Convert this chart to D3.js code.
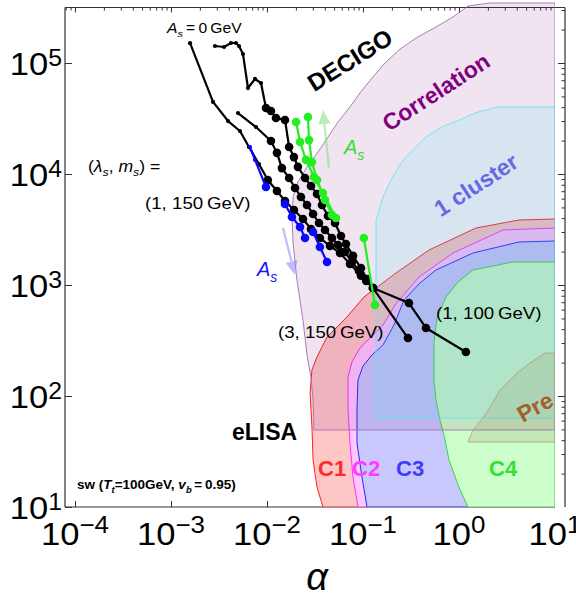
<!DOCTYPE html>
<html><head><meta charset="utf-8">
<script src="https://cdn.jsdelivr.net/npm/d3@7"></script>
<style>body{margin:0;background:#fff}svg{display:block}</style>
</head><body>
<svg id="chart" width="576" height="600"></svg>
<script>
// ---------------- DATA ----------------
const xTickVals = [1e-4, 1e-3, 1e-2, 1e-1, 1, 10];
const xTickExps = ["\u22124", "\u22123", "\u22122", "\u22121", "0", "1"];
const yTickVals = [10, 100, 1000, 1e4, 1e5];
const yTickExps = ["1", "2", "3", "4", "5"];

// black curves (A_s = 0 GeV)
const k1X = [0.00158, 0.00274, 0.00393, 0.00523, 0.00649, 0.00825, 0.0102, 0.0127, 0.0154, 0.0191, 0.0237, 0.0287, 0.0356, 0.0453, 0.0576, 0.0732, 0.0953, 0.127];
const k1Y = [151000, 44600, 30000, 24400, 17500, 12300, 8830, 7030, 5710, 4740, 3930, 3200, 2650, 2250, 1940, 1550, 1210, 940];
const k2X = [0.00287, 0.00357, 0.00422, 0.00475, 0.00511, 0.00562, 0.00634, 0.00750, 0.00866, 0.00976, 0.0110, 0.0124, 0.0154, 0.0170, 0.0191, 0.0210, 0.0249, 0.0287, 0.0332, 0.0374, 0.0432, 0.0511, 0.0590, 0.0665, 0.0787, 0.0953, 0.110, 0.127, 0.301, 0.453, 1.18];
const k2Y = [142300, 139400, 151400, 151400, 142300, 120500, 59500, 71800, 66000, 39300, 37000, 32000, 30700, 17500, 14200, 11600, 9200, 7800, 6610, 5260, 4180, 3620, 2760, 2340, 1830, 1420, 1130, 940, 688, 410, 249];
const k3X = [0.00499, 0.00768, 0.0110, 0.0127, 0.0143, 0.0170, 0.0196, 0.0226, 0.0261, 0.0302, 0.0348, 0.0402, 0.0475, 0.0549, 0.0649, 0.0768, 0.0909, 0.108, 0.127, 0.294];
const k3Y = [35400, 26500, 19800, 15500, 11300, 9200, 7480, 6210, 5260, 4360, 3620, 3130, 2650, 2290, 1980, 1610, 1340, 1090, 940, 333];
// blue curves (A_s increasing, downward)
const b1X = [0.00665, 0.00750, 0.00976];
const b1Y = [17500, 13400, 7640];
const b2X = [0.0154, 0.0182, 0.0221, 0.0249];
const b2Y = [5370, 4100, 3330, 2650];
const b3X = [0.0302, 0.0356, 0.0422];
const b3Y = [3000, 2200, 1610];
// green curves (A_s increasing, upward)
const g1X = [0.0201, 0.0221, 0.0255, 0.0309, 0.0383, 0.0523];
const g1Y = [29400, 19400, 13400, 9400, 6740, 4020];
const g2X = [0.0267, 0.0274, 0.0294, 0.0332, 0.0402, 0.0475];
const g2Y = [32600, 20200, 12800, 8830, 5830, 4270];
const g3X = [0.102, 0.133];
const g3Y = [2650, 660];

// detector / sensitivity regions
const corrX = [10, 2.053, 1.241, 0.866, 0.576, 0.3565, 0.2371, 0.1695, 0.1241, 0.0930, 0.0732, 0.0549, 0.0432, 0.0340, 0.0261, 0.0210, 0.0187, 0.0182, 0.0187, 0.0205, 0.0237, 0.0261, 0.0287, 0.0302, 0.0309, 10];
const corrY = [347000, 347000, 326200, 259700, 211000, 168000, 131000, 100000, 73300, 53700, 40200, 29400, 21500, 15800, 11560, 8470, 6210, 4100, 2390, 1110, 484, 234, 148, 92, 49.4, 49.4];
const clusX = [0.1366, 0.1366, 0.1616, 0.1957, 0.2488, 0.3318, 0.4534, 0.6652, 1.0, 1.577, 2.549, 10, 10];
const clusY = [63.4, 3850, 6210, 8830, 12570, 16460, 21540, 26510, 30650, 36190, 40150, 40150, 63.4];
const c1X = [0.0383, 0.0332, 0.0302, 0.0294, 0.0281, 0.0294, 0.0332, 0.0422, 0.0681, 0.1024, 0.2207, 0.4870, 1.503, 4.217, 10, 10];
const c1Y = [10, 15.1, 26.5, 52.6, 106, 172, 225, 340, 515, 780, 1283, 2067, 3262, 3851, 3932, 10];
const c2X = [0.0887, 0.0787, 0.0732, 0.0698, 0.0698, 0.0768, 0.0930, 0.1212, 0.1616, 0.2154, 0.3831, 0.866, 2.873, 10, 10];
const c2Y = [10, 18.6, 37.7, 74.8, 148, 203, 271, 340, 436, 660, 1181, 1942, 3129, 3262, 10];
const c3X = [0.1101, 0.0976, 0.0866, 0.0866, 0.0887, 0.1, 0.1241, 0.1616, 0.2103, 0.2674, 0.3924, 0.576, 1.399, 4.217, 10, 10];
const c3Y = [10, 18.6, 37.7, 74.8, 139, 186, 234, 288, 436, 733, 1042, 1365, 1942, 2440, 2491, 10];
const c4X = [1.241, 1.0, 0.787, 0.698, 0.634, 0.576, 0.549, 0.549, 0.590, 0.732, 0.976, 1.399, 3.652, 10, 10];
const c4Y = [10, 15.1, 26.5, 44.5, 60.8, 92, 139, 300, 504, 780, 1064, 1365, 1612, 1612, 10];
const preX = [1.241, 1.399, 1.778, 2.103, 2.674, 4.019, 5.490, 7.867, 10, 10];
const preY = [38.5, 49.4, 63.4, 79.6, 113, 161, 198, 244, 244, 38.5];

// A_s direction arrows [start, end]
const greenArrowX = [0.0442, 0.0383];
const greenArrowY = [11330, 37730];
const blueArrowX = [0.01468, 0.01957];
const blueArrowY = [3262, 1231];

// ---------------- CHART ----------------
const FONT = "'Liberation Sans', Arial, Helvetica, sans-serif";
const svg = d3.select("#chart");
const L = 65, R = 555, T = 7.5, B = 507, RAX = 565;
const x = d3.scaleLog().domain([7.87e-5, 10]).range([L, R]);
const y = d3.scaleLog().domain([10, 316228]).range([B, T]);

function rich(parent, px, py, parts, o) {
  const sx = o.sx || 1, rot = o.rot || 0, vy = o.vy || 0;
  const t = parent.append("text")
    .attr("transform", `translate(${px},${py}) rotate(${rot}) translate(0,${vy}) scale(${sx},1)`)
    .attr("font-family", FONT).attr("font-size", o.size)
    .attr("fill", o.color || "#000")
    .attr("font-weight", o.bold ? "bold" : "normal")
    .attr("text-anchor", o.anchor || "start");
  let shift = 0;
  parts.forEach(p => {
    const s = t.append("tspan").text(p.t);
    const target = p.sub ? (p.shift || o.size * 0.28) : p.sup ? -(p.shift || o.size * 0.4) : 0;
    if (target !== shift) { s.attr("dy", target - shift); shift = target; }
    if (p.sub || p.sup) s.attr("font-size", p.size || o.size * 0.7);
    if (p.it) s.attr("font-style", "italic");
  });
  return t;
}

// ---- frame & ticks (drawn below the regions) ----
const axisG = svg.append("g").attr("stroke", "#333").attr("fill", "none");
axisG.append("line").attr("x1", L).attr("x2", L).attr("y1", T).attr("y2", B).attr("stroke-width", 1.2);
axisG.append("line").attr("x1", L).attr("x2", R).attr("y1", B).attr("y2", B).attr("stroke-width", 1.2);
axisG.append("line").attr("x1", L).attr("x2", RAX).attr("y1", T).attr("y2", T).attr("stroke-width", 1.2);
axisG.append("line").attr("x1", RAX).attr("x2", RAX).attr("y1", T).attr("y2", B).attr("stroke-width", 1.2);

function styleAxis(g) { g.select(".domain").remove(); g.selectAll("line").attr("stroke", "#333"); g.selectAll("text").remove(); }
const xMinor = x.ticks().filter(v => !xTickVals.includes(v));
const yMinor = y.ticks().filter(v => !yTickVals.includes(v));
svg.append("g").attr("transform", `translate(0,${B})`).call(d3.axisBottom(x).tickValues(xTickVals.filter(v => v < 10)).tickSize(-6)).call(styleAxis);
svg.append("g").attr("transform", `translate(${L},0)`).call(d3.axisLeft(y).tickValues(yTickVals).tickSize(-7)).call(styleAxis);
svg.append("g").attr("transform", `translate(0,${T})`).call(d3.axisTop(x).tickValues(xTickVals.filter(v => v < 10)).tickSize(-5)).call(styleAxis);
svg.append("g").attr("transform", `translate(0,${T})`).call(d3.axisTop(x).tickValues(xMinor).tickSize(-3)).call(styleAxis);
svg.append("g").attr("transform", `translate(${RAX},0)`).call(d3.axisRight(y).tickValues(yTickVals.filter(v => v > 10)).tickSize(-7)).call(styleAxis);
svg.append("g").attr("transform", `translate(${RAX},0)`).call(d3.axisRight(y).tickValues(yMinor).tickSize(-3.5)).call(styleAxis);

// tick labels
xTickVals.forEach((v, i) => {
  rich(svg, x(v), 545, [{ t: "10" }, { t: xTickExps[i], sup: true, size: 24, shift: 12 }], { size: 32, anchor: "middle", sx: 1.08 });
});
yTickVals.forEach((v, i) => {
  rich(svg, 62, y(v) + 12, [{ t: "10" }, { t: yTickExps[i], sup: true, size: 23, shift: 9 }], { size: 32, anchor: "end", sx: 1.08 });
});
rich(svg, 317, 590, [{ t: "\u03b1", it: true }], { size: 38, anchor: "middle" });

// ---- regions ----
svg.append("defs").append("clipPath").attr("id", "plotclip")
  .append("rect").attr("x", L).attr("y", 2).attr("width", R - L).attr("height", B - 2);
const regG = svg.append("g").attr("clip-path", "url(#plotclip)");
const area = (xs, ys) => d3.line().x((d, i) => x(xs[i])).y((d, i) => y(ys[i]))(xs) + "Z";
regG.append("path").attr("d", area(c1X, c1Y)).attr("fill", "#ffc6c6").attr("stroke", "#ff2020").attr("stroke-width", 1);
regG.append("path").attr("d", area(c2X, c2Y)).attr("fill", "#ffc6ff").attr("stroke", "#ff30ff").attr("stroke-width", 1);
regG.append("path").attr("d", area(c3X, c3Y)).attr("fill", "#c8c8ff").attr("stroke", "#2828ff").attr("stroke-width", 1);
regG.append("path").attr("d", area(c4X, c4Y)).attr("fill", "#ccffcc").attr("stroke", "#33dd33").attr("stroke-width", 1);
regG.append("path").attr("d", area(corrX, corrY)).attr("fill", "rgb(130,30,130)").attr("fill-opacity", 0.12).attr("stroke", "#a070b0").attr("stroke-width", 0.9);
regG.append("path").attr("d", area(clusX, clusY)).attr("fill", "rgb(63,243,240)").attr("fill-opacity", 0.136).attr("stroke", "#66e6f0").attr("stroke-width", 0.9);
regG.append("path").attr("d", area(preX, preY)).attr("fill", "rgb(150,110,60)").attr("fill-opacity", 0.15).attr("stroke", "#b8a078").attr("stroke-width", 0.9);

// ---- region labels ----
rich(svg, 350, 60, [{ t: "DECIGO" }], { size: 24, bold: true, anchor: "middle", rot: -32, vy: 8.5 });
rich(svg, 436, 92, [{ t: "Correlation" }], { size: 23, bold: true, anchor: "middle", rot: -33, vy: 8, color: "#800080" });
rich(svg, 476, 185, [{ t: "1 cluster" }], { size: 23, bold: true, anchor: "middle", rot: -33, vy: 8, color: "#6868e6" });
rich(svg, 535, 407, [{ t: "Pre" }], { size: 23, bold: true, anchor: "middle", rot: -29, vy: 8, color: "#a0622a" });
rich(svg, 232, 440, [{ t: "eLISA" }], { size: 23, bold: true });
rich(svg, 318, 476, [{ t: "C1" }], { size: 22, bold: true, color: "#ff2a2a" });
rich(svg, 352, 476, [{ t: "C2" }], { size: 22, bold: true, color: "#ff3cff" });
rich(svg, 396, 476, [{ t: "C3" }], { size: 22, bold: true, color: "#3c3cff" });
rich(svg, 489, 476, [{ t: "C4" }], { size: 22, bold: true, color: "#33e033" });
rich(svg, 77, 489, [{ t: "sw (" }, { t: "T", it: true }, { t: "t", it: true, sub: true }, { t: "=100GeV, " }, { t: "v", it: true }, { t: "b", it: true, sub: true }, { t: "\u2009=\u20090.95)" }], { size: 13.5, bold: true });

// ---- arrows ----
function arrow(xs, ys, color, op) {
  const x0 = x(xs[0]), y0 = y(ys[0]), x1 = x(xs[1]), y1 = y(ys[1]);
  const dx = x1 - x0, dy = y1 - y0, len = Math.hypot(dx, dy), ux = dx / len, uy = dy / len;
  const hl = 14, hw = 6;
  const bx = x1 - ux * hl, by = y1 - uy * hl;
  svg.append("line").attr("x1", x0).attr("y1", y0).attr("x2", bx).attr("y2", by)
    .attr("stroke", color).attr("stroke-opacity", op).attr("stroke-width", 2.2);
  svg.append("path").attr("d", `M${x1},${y1}L${bx - uy * hw},${by + ux * hw}L${bx + uy * hw},${by - ux * hw}Z`)
    .attr("fill", color).attr("fill-opacity", op);
}
arrow(greenArrowX, greenArrowY, "#7ee07e", 0.55);
arrow(blueArrowX, blueArrowY, "#8888f0", 0.55);

// ---- series ----
const series = [
  { xs: k1X, ys: k1Y, color: "#000", bigFrom: 6 },
  { xs: k2X, ys: k2Y, color: "#000", bigFrom: 9 },
  { xs: k3X, ys: k3Y, color: "#000", bigFrom: 2 },
  { xs: b1X, ys: b1Y, color: "#0a0aff", bigFrom: 2 },
  { xs: b2X, ys: b2Y, color: "#0a0aff", bigFrom: 0 },
  { xs: b3X, ys: b3Y, color: "#0a0aff", bigFrom: 0 },
  { xs: g1X, ys: g1Y, color: "#22ee22", bigFrom: 0 },
  { xs: g2X, ys: g2Y, color: "#22ee22", bigFrom: 0 },
  { xs: g3X, ys: g3Y, color: "#22ee22", bigFrom: 0 }
];
const serG = svg.append("g");
series.forEach(s => {
  const pts = s.xs.map((v, i) => [x(v), y(s.ys[i])]);
  serG.append("path").attr("d", d3.line()(pts)).attr("fill", "none").attr("stroke", s.color).attr("stroke-width", 2.2).attr("stroke-linejoin", "round");
  serG.selectAll(null).data(pts).enter().append("circle")
    .attr("cx", d => d[0]).attr("cy", d => d[1])
    .attr("r", (d, i) => i >= s.bigFrom ? 4.3 : 2.1).attr("fill", s.color);
});

// ---- annotations ----
rich(svg, 167, 33, [{ t: "A", it: true }, { t: "s", it: true, sub: true }, { t: "\u2009=\u20090\u2009GeV" }], { size: 14, sx: 1.12 });
rich(svg, 88, 172, [{ t: "(" }, { t: "\u03bb", it: true }, { t: "s", it: true, sub: true }, { t: ", " }, { t: "m", it: true }, { t: "s", it: true, sub: true }, { t: ") =" }], { size: 16, sx: 1.1 });
rich(svg, 145, 209, [{ t: "(1, 150\u2009GeV)" }], { size: 17, sx: 1.1 });
rich(svg, 278, 338, [{ t: "(3, 150\u2009GeV)" }], { size: 17, sx: 1.1 });
rich(svg, 436, 319, [{ t: "(1, 100\u2009GeV)" }], { size: 17, sx: 1.1 });
rich(svg, 344, 154, [{ t: "A", it: true }, { t: "s", it: true, sub: true }], { size: 20, color: "#33dd33" });
rich(svg, 257, 276, [{ t: "A", it: true }, { t: "s", it: true, sub: true }], { size: 20, color: "#1515ff" });
</script>
</body></html>
